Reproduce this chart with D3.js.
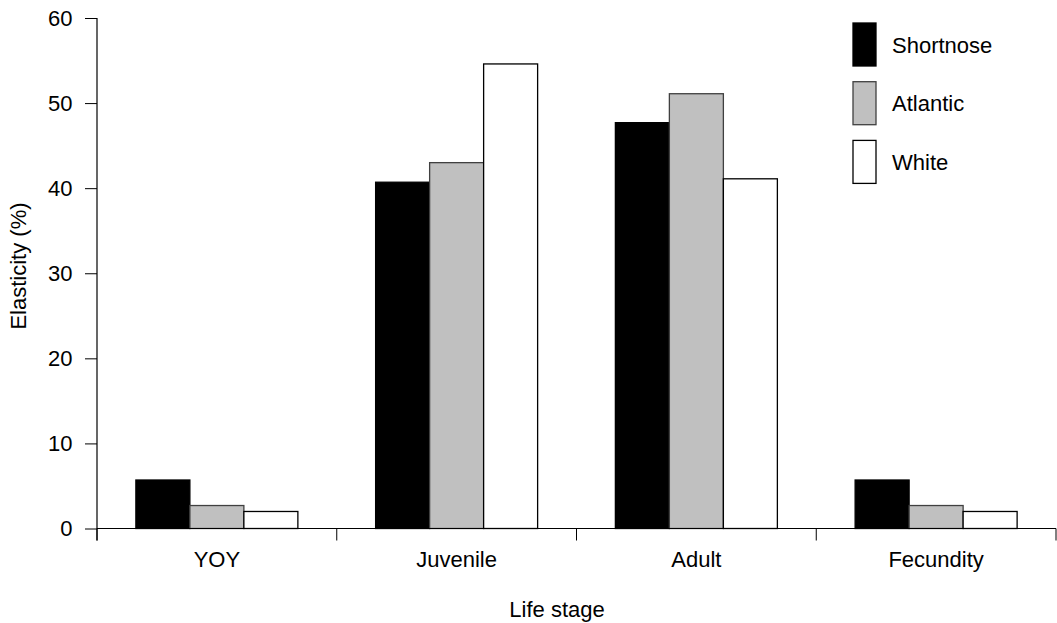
<!DOCTYPE html>
<html><head><meta charset="utf-8">
<script src="https://cdn.jsdelivr.net/npm/d3@7"></script>
<style>body{margin:0;background:#fff}svg{display:block;font-family:"Liberation Sans",Arial,sans-serif}</style>
</head><body><svg id="c" width="1057" height="623"></svg>
<script>
const categories = ["YOY", "Juvenile", "Adult", "Fecundity"];
const seriesNames = ["Shortnose", "Atlantic", "White"];
const shortnose = [5.7, 40.7, 47.7, 5.7];
const atlantic = [2.7, 43.0, 51.1, 2.7];
const white = [2.0, 54.6, 41.1, 2.0];
const yTicks = [0, 10, 20, 30, 40, 50, 60];
const fills = ["#000000", "#c0c0c0", "#ffffff"];
const strokes = ["#000000", "#404040", "#000000"];
const seriesValues = [shortnose, atlantic, white];

(function () {
const svg = d3.select("#c");
const FS = 22;
const mLeft = 97, mRight = 1056, mTop = 18, mBottom = 528.5;
const x = d3.scaleBand().domain(categories).range([mLeft, mRight]).paddingInner(0).paddingOuter(0);
const xs = d3.scaleBand().domain(seriesNames).range([0, x.bandwidth()]).paddingInner(0).paddingOuter(0.72);
const y = d3.scaleLinear().domain([0, 60]).range([mBottom, mTop]);

// bars
categories.forEach((c, i) => {
  seriesNames.forEach((s, j) => {
    const v = seriesValues[j][i];
    svg.append("rect")
      .attr("x", x(c) + xs(s))
      .attr("y", y(v))
      .attr("width", xs.bandwidth())
      .attr("height", y(0) - y(v))
      .attr("fill", fills[j])
      .attr("stroke", strokes[j])
      .attr("stroke-width", 1.3);
  });
});

// y axis
const yAxis = d3.axisLeft(y).tickValues(yTicks).tickSize(12).tickSizeOuter(0).tickPadding(12.5);
const gy = svg.append("g").attr("transform", `translate(${mLeft},0)`).call(yAxis);
gy.select(".domain").remove();
gy.append("line").attr("x1", 0).attr("x2", 0).attr("y1", mTop).attr("y2", mBottom + 12).attr("stroke", "#000").attr("stroke-width", 1.2);
gy.selectAll(".tick line").attr("stroke", "#000").attr("stroke-width", 1);
gy.selectAll(".tick text").attr("font-size", FS).attr("fill", "#000").attr("font-family", "Liberation Sans, Arial, sans-serif");

// x axis
const xb = d3.scaleLinear().domain([0, categories.length]).range([mLeft, mRight]);
const gx = svg.append("g").attr("transform", `translate(0,${mBottom})`);
gx.append("line").attr("x1", mLeft).attr("x2", mRight).attr("y1", 0).attr("y2", 0).attr("stroke", "#000").attr("stroke-width", 1.2);
d3.range(categories.length + 1).forEach(k => {
  gx.append("line").attr("x1", xb(k)).attr("x2", xb(k)).attr("y1", 0).attr("y2", 12).attr("stroke", "#000").attr("stroke-width", 1);
});
categories.forEach(c => {
  gx.append("text").attr("x", x(c) + x.bandwidth() / 2).attr("y", 38)
    .attr("text-anchor", "middle").attr("font-size", FS).attr("fill", "#000").text(c);
});

// axis titles
svg.append("text").attr("x", 557).attr("y", 617).attr("text-anchor", "middle").attr("font-size", FS).text("Life stage");
svg.append("text").attr("transform", "translate(26,266) rotate(-90)").attr("text-anchor", "middle").attr("font-size", FS).text("Elasticity (%)");

// legend
const lg = svg.append("g");
seriesNames.forEach((s, j) => {
  const yy = 23 + j * 58.7;
  lg.append("rect").attr("x", 853).attr("y", yy).attr("width", 23).attr("height", 43)
    .attr("fill", fills[j]).attr("stroke", strokes[j]).attr("stroke-width", 1.3);
  lg.append("text").attr("x", 892).attr("y", yy + 21.5 + 8).attr("font-size", FS).text(s);
});
})();
</script></body></html>
